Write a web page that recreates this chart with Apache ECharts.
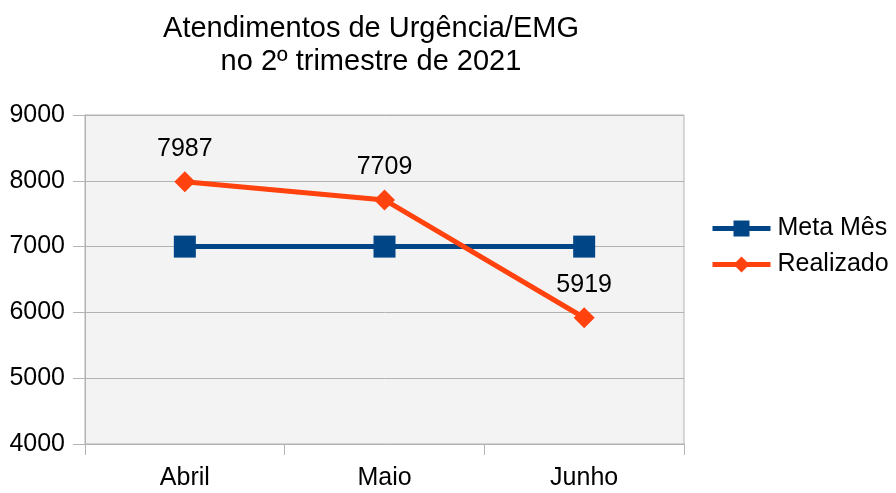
<!DOCTYPE html>
<html>
<head>
<meta charset="utf-8">
<script src="https://cdn.jsdelivr.net/npm/echarts@6/dist/echarts.min.js"></script>
<style>
	html, body { margin: 0; padding: 0; background: #fff; }
	#chart { width: 896px; height: 493px; }
</style>
</head>
<body>
<div id="chart"></div>
<script>
// data
var months = ['Abril', 'Maio', 'Junho'];
var metaMes = [7000, 7000, 7000];
var realizado = [7987, 7709, 5919];
var yTicks = [4000, 5000, 6000, 7000, 8000, 9000];

var font = 'Liberation Sans, Arial, sans-serif';
var gridColor = '#b3b3b3';

var chart = echarts.init(document.getElementById('chart'));
chart.setOption({
	animation: false,
	textStyle: { fontFamily: font },
	title: {
		text: 'Atendimentos de Urgência/EMG\nno 2º trimestre de 2021',
		left: 366,
		top: 7,
		textAlign: 'center',
		textStyle: { fontSize: 29, fontWeight: 'normal', color: '#000', lineHeight: 33, fontFamily: font }
	},
	legend: {
		orient: 'vertical',
		left: 705,
		top: 211,
		itemWidth: 58,
		itemHeight: 20,
		itemGap: 11,
		lineStyle: { width: 5 },
		textStyle: { fontSize: 25, color: '#000', fontFamily: font, padding: [0, 0, 0, 2] },
		data: ['Meta Mês', 'Realizado']
	},
	grid: {
		left: 85, right: 212, top: 115, bottom: 49,
		show: true,
		backgroundColor: '#f3f3f3',
		borderColor: gridColor,
		borderWidth: 1
	},
	xAxis: {
		type: 'category',
		data: months,
		boundaryGap: true,
		axisLine: { lineStyle: { color: gridColor, width: 1 } },
		axisTick: { show: true, length: 11, alignWithLabel: false, lineStyle: { color: gridColor } },
		axisLabel: { fontSize: 25, color: '#000', margin: 22, fontFamily: font },
		splitLine: { show: false }
	},
	yAxis: {
		type: 'value',
		min: yTicks[0],
		max: yTicks[yTicks.length - 1],
		interval: 1000,
		axisLine: { show: true, lineStyle: { color: gridColor, width: 1 } },
		axisTick: { show: true, length: 12, lineStyle: { color: gridColor } },
		axisLabel: {
			fontSize: 25, color: '#000', margin: 20, fontFamily: font,
			formatter: function (v) { return String(v); }
		},
		splitLine: { show: true, lineStyle: { color: gridColor, width: 1 } }
	},
	series: [
		{
			name: 'Meta Mês',
			type: 'line',
			data: metaMes,
			color: '#004586',
			symbol: 'rect',
			symbolSize: 22,
			lineStyle: { width: 5, color: '#004586' },
			itemStyle: { color: '#004586' }
		},
		{
			name: 'Realizado',
			type: 'line',
			data: realizado,
			color: '#ff420e',
			symbol: 'diamond',
			symbolSize: 21,
			lineStyle: { width: 5, color: '#ff420e' },
			itemStyle: { color: '#ff420e' },
			label: {
				show: true,
				position: 'top',
				distance: 10,
				fontSize: 25,
				color: '#000',
				fontFamily: font
			}
		}
	]
});
</script>
</body>
</html>
